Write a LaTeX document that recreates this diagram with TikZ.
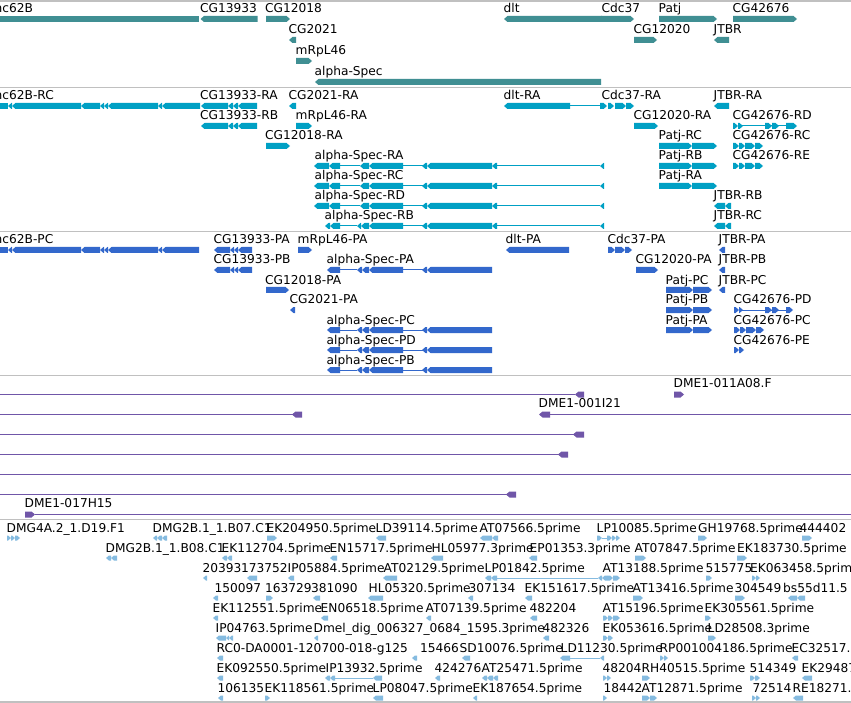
\documentclass[tikz,border=0pt]{standalone}
\usepackage{fontspec}
\setmainfont{DejaVu Sans}
\definecolor{tA}{RGB}{64,143,147}
\definecolor{tB}{RGB}{0,160,196}
\definecolor{tC}{RGB}{51,104,204}
\definecolor{tD}{RGB}{112,86,168}
\definecolor{tE}{RGB}{133,187,224}
\definecolor{sepc}{RGB}{192,192,192}
\newcommand\Gh{3}
\newcommand\Gt{3.5}
% left-pointing exon
\newcommand\GL[3]{\fill (#1,#3) -- (#1+\Gt,#3-\Gh) -- (#2,#3-\Gh) -- (#2,#3+\Gh) -- (#1+\Gt,#3+\Gh) -- cycle;}
% right-pointing exon
\newcommand\GR[3]{\fill (#1,#3-\Gh) -- (#2-\Gt,#3-\Gh) -- (#2,#3) -- (#2-\Gt,#3+\Gh) -- (#1,#3+\Gh) -- cycle;}
% plain block
\newcommand\GB[3]{\fill (#1,#3-\Gh) rectangle (#2,#3+\Gh);}
% intron line
\newcommand\Gline[3]{\draw[line width=1pt] (#1,#3) -- (#2,#3);}
% label
\newcommand\Lab[4]{\node[lab] (#1) at (#2,#3) {#4};}
% composite structures
\newcommand\ncbar[2]{\GB{-2}{8}{#1}\GL{8}{12}{#1}\GL{12}{81}{#1}\GL{81}{100}{#1}\GL{100}{104}{#1}\GL{104}{108}{#1}\GL{108}{158}{#1}\GL{158}{162}{#1}\GL{162}{#2}{#1}}
\newcommand\cgR[1]{\GL{201}{228}{#1}\GL{228}{233}{#1}\GL{233}{238}{#1}\GL{238}{257}{#1}}
\newcommand\cgP[1]{\GL{214}{230}{#1}\GL{230}{234}{#1}\GL{234}{238}{#1}\GL{238}{252}{#1}}
\newcommand\aspecR[1]{\Gline{340}{360}{#1}\Gline{403}{423}{#1}\Gline{497}{600}{#1}%
  \GL{314}{329}{#1}\GL{329}{340}{#1}\GL{360}{369}{#1}\GL{369}{403}{#1}\GL{422}{427}{#1}\GL{427}{492}{#1}\GL{492}{497}{#1}\GL{600}{604}{#1}}
\newcommand\aspecRB[1]{\Gline{340}{357}{#1}\Gline{403}{423}{#1}\Gline{497}{600}{#1}%
  \GL{325}{330}{#1}\GL{330}{340}{#1}\GL{357}{361}{#1}\GL{361}{369}{#1}\GL{369}{403}{#1}\GL{422}{427}{#1}\GL{427}{492}{#1}\GL{492}{497}{#1}\GL{600}{604}{#1}}
\newcommand\aspecP[1]{\Gline{340}{357}{#1}\Gline{403}{423}{#1}%
  \GL{327}{340}{#1}\GL{357}{362}{#1}\GL{362}{369}{#1}\GL{369}{403}{#1}\GL{422}{427}{#1}\GL{427}{492}{#1}}
\newcommand\patjR[1]{\GR{659}{692}{#1}\GR{692}{717}{#1}}
\newcommand\patjP[1]{\GR{666}{693}{#1}\GR{693}{712}{#1}}
\newcommand\cgsmall[2]{\GR{#1}{#1+6}{#2}\GR{#1+6}{#1+12}{#2}\GR{#1+12}{#1+22}{#2}\GR{#1+22}{#1+30}{#2}}
\begin{document}
\begin{tikzpicture}[x=1pt,y=-1pt,
  lab/.style={anchor=base west,inner sep=0pt,font=\fontsize{12.2}{14}\selectfont,text=black}]
\useasboundingbox (0,0) rectangle (851,703);
\clip (0,0) rectangle (851,703);
\fill[white] (0,0) rectangle (851,703);
\foreach \yy in {1,87.5,231.5,375.5,519.5,702}
  \draw[sepc,line width=1.3pt] (0,\yy) -- (851,\yy);

% ---------- track 1: genes ----------
\begin{scope}[color=tA]
\Lab{g1}{-5.5}{13}{nc62B} \GB{-2}{199}{19}
\Lab{g2}{200}{13}{CG13933} \GL{200.5}{257.5}{19}
\Lab{g3}{265}{13}{CG12018} \GR{266}{290}{19}
\Lab{g4}{288.5}{34}{CG2021} \GL{289}{296}{40}
\Lab{g5}{295.5}{55}{mRpL46} \GR{296}{312}{61}
\Lab{g6}{314.5}{76}{alpha-Spec} \GL{315}{601}{82}
\Lab{g7}{503.5}{13}{dlt} \GL{504}{602}{19} \GR{601}{634}{19}
\Lab{g8}{601.5}{13}{Cdc37}
\Lab{g9}{658.5}{13}{Patj} \GR{659}{717}{19}
\Lab{g10}{732.5}{13}{CG42676} \GR{733}{797}{19}
\Lab{g11}{633.5}{34}{CG12020} \GR{634}{657}{40}
\Lab{g12}{713.5}{34}{JTBR} \GL{714}{729}{40}
\end{scope}

% ---------- track 2: transcripts ----------
\begin{scope}[color=tB]
\Lab{t1}{-5.5}{100}{nc62B-RC} \ncbar{106}{200}
\Lab{t2}{200}{100}{CG13933-RA} \cgR{106}
\Lab{t3}{288.5}{100}{CG2021-RA} \GL{289}{296}{106}
\Lab{t4}{503.5}{100}{dlt-RA} \Gline{570}{600}{106} \GL{504}{570}{106}
  \GR{600}{607}{106} \GR{608}{614}{106} \GR{615}{626}{106} \GR{626}{634}{106}
\Lab{t5}{601.5}{100}{Cdc37-RA}
\Lab{t6}{713.5}{100}{JTBR-RA} \GL{714}{729}{106}
\Lab{t7}{200}{120}{CG13933-RB} \cgR{126}
\Lab{t8}{295.5}{120}{mRpL46-RA} \GR{296}{312}{126}
\Lab{t9}{633.5}{120}{CG12020-RA} \GR{634}{658}{126}
\Lab{t10}{732.5}{120}{CG42676-RD} \Gline{738}{786}{126}
  \GR{733}{738}{126} \GR{738}{743}{126} \GR{765}{772}{126} \GR{772}{779}{126} \GR{786}{797}{126}
\Lab{t11}{265}{140}{CG12018-RA} \GR{266}{290}{146}
\Lab{t12}{658.5}{140}{Patj-RC} \patjR{146}
\Lab{t13}{732.5}{140}{CG42676-RC} \cgsmall{733}{146}
\Lab{t14}{314.5}{160}{alpha-Spec-RA} \aspecR{166}
\Lab{t15}{658.5}{160}{Patj-RB} \patjR{166}
\Lab{t16}{732.5}{160}{CG42676-RE} \cgsmall{733}{166}
\Lab{t17}{314.5}{180}{alpha-Spec-RC} \aspecR{186}
\Lab{t18}{658.5}{180}{Patj-RA} \patjR{186}
\Lab{t19}{314.5}{200}{alpha-Spec-RD} \aspecR{206}
\Lab{t20}{713.5}{200}{JTBR-RB} \GL{714}{725}{206} \GL{725}{731}{206}
\Lab{t21}{324.5}{220}{alpha-Spec-RB} \aspecRB{226}
\Lab{t22}{713.5}{220}{JTBR-RC} \GL{714}{725}{226} \GL{725}{731}{226}
\end{scope}

% ---------- track 3: proteins ----------
\begin{scope}[color=tC]
\Lab{p1}{-5.5}{244}{nc62B-PC} \ncbar{250}{199}
\Lab{p2}{213.5}{244}{CG13933-PA} \cgP{250}
\Lab{p3}{297.5}{244}{mRpL46-PA} \GR{298}{312}{250}
\Lab{p4}{505.5}{244}{dlt-PA} \GL{506}{569}{250}
\Lab{p5}{607.5}{244}{Cdc37-PA} \GR{608}{615}{250} \GR{615}{625}{250} \GR{625}{632}{250}
\Lab{p6}{718.5}{244}{JTBR-PA} \GL{719}{725}{250}
\Lab{p7}{213.5}{264}{CG13933-PB} \cgP{270}
\Lab{p8}{326.5}{264}{alpha-Spec-PA} \aspecP{270}
\Lab{p9}{635.5}{264}{CG12020-PA} \GR{636}{658}{270}
\Lab{p10}{718.5}{264}{JTBR-PB} \GL{719}{725}{270}
\Lab{p11}{265}{284}{CG12018-PA} \GR{266}{289}{290}
\Lab{p12}{665.5}{284}{Patj-PC} \patjP{290}
\Lab{p13}{718.5}{284}{JTBR-PC} \GL{719}{725}{290}
\Lab{p14}{289.5}{304}{CG2021-PA} \GL{290}{295}{310}
\Lab{p15}{665.5}{304}{Patj-PB} \patjP{310}
\Lab{p16}{733.5}{304}{CG42676-PD} \Gline{739}{786}{310}
  \GR{734}{739}{310} \GR{739}{743}{310} \GR{765}{772}{310} \GR{772}{779}{310} \GR{786}{793}{310}
\Lab{p17}{326.5}{324}{alpha-Spec-PC} \aspecP{330}
\Lab{p18}{665.5}{324}{Patj-PA} \patjP{330}
\Lab{p19}{733.5}{324}{CG42676-PC} \cgsmall{734}{330}
\Lab{p20}{326.5}{344}{alpha-Spec-PD} \aspecP{350}
\Lab{p21}{733.5}{344}{CG42676-PE} \GR{734}{739}{350} \GR{739}{744}{350}
\Lab{p22}{326.5}{364}{alpha-Spec-PB} \aspecP{370}
\end{scope}

% ---------- track 4: clones ----------
\begin{scope}[color=tD]
\Gline{-2}{575}{394.5} \GL{575}{584}{394.5}
\Lab{d1}{673.5}{387.5}{DME1-011A08.F} \GR{674}{684}{394.5}
\Gline{-2}{293}{414.5} \GL{292}{302}{414.5}
\Lab{d2}{538.5}{407.5}{DME1-001I21} \GL{539}{550}{414.5} \Gline{550}{853}{414.5}
\Gline{-2}{574}{434.5} \GL{573}{584}{434.5}
\Gline{-2}{559}{454.5} \GL{558}{568}{454.5}
\Gline{-2}{853}{474.5}
\Gline{-2}{507}{494.5} \GL{506}{516}{494.5}
\Lab{d3}{24.5}{507.5}{DME1-017H15} \GR{25}{35}{514.5} \Gline{35}{853}{514.5}
\end{scope}

% ---------- track 5: ESTs ----------
\begin{scope}[color=tE]
\renewcommand\Gh{2.5}\renewcommand\Gt{3}
% row 1
\Lab{e1}{6.5}{532}{DMG4A.2\_1.D19.F1} \GR{7}{11}{538} \GR{11}{15}{538} \GR{15}{20}{538}
\Lab{e2}{152.5}{532}{DMG2B.1\_1.B07.C1} \GL{153}{157}{538} \GL{157}{162}{538} \GL{162}{167}{538}
\Lab{e3}{266.5}{532}{EK204950.5prime} \GR{267}{277}{538}
\Lab{e4}{375.5}{532}{LD39114.5prime} \GL{376}{386}{538}
\Lab{e5}{479.5}{532}{AT07566.5prime} \GL{480}{492}{538} \GL{492}{498}{538}
\Lab{e6}{596.5}{532}{LP10085.5prime} \Gline{602}{607}{538} \GR{597}{602}{538} \GR{607}{612}{538} \GR{612}{616}{538} \GR{616}{620}{538}
\Lab{e7}{698}{532}{GH19768.5prime} \GR{698}{707}{538}
\Lab{e8}{799.5}{532}{444402} \GR{802}{812}{538}
% row 2
\Lab{e9}{105.5}{552}{DMG2B.1\_1.B08.C1} \GL{106}{111}{558} \GL{111}{117}{558}
\Lab{e10}{221.5}{552}{EK112704.5prime} \GL{222}{227}{558} \GL{227}{232}{558}
\Lab{e11}{329.5}{552}{EN15717.5prime} \GL{330}{337}{558}
\Lab{e12}{431.5}{552}{HL05977.3prime} \GL{431}{443}{558}
\Lab{e13}{529.5}{552}{EP01353.3prime} \GL{529}{537}{558}
\Lab{e14}{634.5}{552}{AT07847.5prime} \GR{635}{646}{558}
\Lab{e15}{737}{552}{EK183730.5prime} \GR{737}{747}{558}
% row 3
\Lab{e16}{202.5}{572}{20393} \GL{203}{207}{578}
\Lab{e17}{241}{572}{173752} \GL{247}{257}{578}
\Lab{e18}{287.5}{572}{IP05884.5prime} \GL{288}{294}{578}
\Lab{e19}{383.5}{572}{AT02129.5prime} \GL{383}{397}{578}
\Lab{e20}{484.5}{572}{LP01842.5prime} \Gline{497}{598}{578} \GL{485}{491}{578} \GL{491}{497}{578} \GL{598}{602}{578} \GL{602}{607}{578}
\Lab{e21}{602.5}{572}{AT13188.5prime} \GR{607}{613}{578} \GR{613}{620}{578}
\Lab{e22}{705.5}{572}{515775} \GR{706}{712}{578}
\Lab{e23}{750}{572}{EK063458.5prim} \GR{752}{756}{578} \GR{756}{760}{578}
% row 4
\Lab{e24}{214.5}{592}{150097} \GL{213}{218}{598}
\Lab{e25}{265}{592}{163729} \GR{266}{273}{598}
\Lab{e26}{311}{592}{381090} \GL{313}{320}{598}
\Lab{e27}{368.5}{592}{HL05320.5prime} \GL{368}{383}{598}
\Lab{e28}{468.5}{592}{307134} \GL{468}{473}{598}
\Lab{e29}{524.5}{592}{EK151617.5prime} \GL{525}{532}{598}
\Lab{e30}{632.5}{592}{AT13416.5prime} \GR{633}{643}{598}
\Lab{e31}{734.5}{592}{304549} \GR{735}{745}{598}
\Lab{e32}{783}{592}{bs55d11.5} \GL{788}{797}{598} \GL{797}{805}{598}
% row 5
\Lab{e33}{212.5}{612}{EK112551.5prime} \GL{213}{218}{618}
\Lab{e34}{320.5}{612}{EN06518.5prime} \GL{321}{328}{618}
\Lab{e35}{425.5}{612}{AT07139.5prime} \GL{426}{431}{618}
\Lab{e36}{529.5}{612}{482204} \GL{530}{537}{618}
\Lab{e37}{602.5}{612}{AT15196.5prime} \GR{603}{608}{618} \GR{608}{613}{618} \GR{613}{620}{618}
\Lab{e38}{704.5}{612}{EK305561.5prime} \GR{705}{711}{618}
% row 6
\Lab{e39}{215.5}{632}{IP04763.5prime} \GL{216}{226}{638} \GL{226}{229}{638} \GL{229}{233}{638}
\Lab{e40}{313.5}{632}{Dmel\_dig\_006327\_0684\_1595.3prime} \GL{314}{318}{638}
\Lab{e41}{542.5}{632}{482326} \GL{543}{549}{638}
\Lab{e42}{602.5}{632}{EK053616.5prime} \GR{603}{608}{638} \GR{608}{613}{638}
\Lab{e43}{707.5}{632}{LD28508.3prime} \GR{708}{716}{638}
% row 7
\Lab{e44}{216.5}{652}{RC0-DA0001-120700-018-g125} \GL{217}{223}{658}
\Lab{e45}{420}{652}{15466} \GL{412}{417}{658}
\Lab{e46}{459.5}{652}{SD10076.5prime} \GL{462}{470}{658}
\Lab{e47}{560.5}{652}{LD11230.5prime} \Gline{570}{600}{658} \GL{560}{570}{658} \GL{600}{604}{658}
\Lab{e48}{659.5}{652}{RP001004186.5prime} \GR{660}{664}{658} \GR{664}{668}{658}
\Lab{e49}{791.5}{652}{EC32517.} \GL{792}{798}{658}
% row 8
\Lab{e50}{216.5}{672}{EK092550.5prime} \GL{217}{223}{678}
\Lab{e51}{325.5}{672}{IP13932.5prime} \Gline{335}{373}{678} \GL{325}{330}{678} \GL{330}{335}{678} \GL{373}{382}{678}
\Lab{e52}{434.5}{672}{424276} \GL{435}{440}{678}
\Lab{e53}{481.5}{672}{AT25471.5prime} \GL{482}{487}{678} \GL{487}{493}{678} \GL{493}{498}{678}
\Lab{e54}{602.5}{672}{48204} \GR{603}{607}{678} \GR{607}{611}{678}
\Lab{e55}{641.5}{672}{RH40515.5prime} \GR{642}{650}{678}
\Lab{e56}{749.5}{672}{514349} \GR{750}{755}{678} \GR{755}{760}{678}
\Lab{e57}{801.5}{672}{EK29487} \GL{802}{812}{678}
% row 9
\Lab{e58}{217.5}{692}{106135} \GL{218}{223}{698}
\Lab{e59}{264.5}{692}{EK118561.5prime} \GR{265}{270}{698}
\Lab{e60}{372.5}{692}{LP08047.5prime} \GL{373}{383}{698}
\Lab{e61}{472.5}{692}{EK187654.5prime} \GL{473}{477}{698}
\Lab{e62}{603.5}{692}{18442} \GR{603}{607}{698}
\Lab{e63}{641.5}{692}{AT12871.5prime} \GR{642}{650}{698} \GR{650}{657}{698}
\Lab{e64}{752.5}{692}{72514} \GR{752}{756}{698} \GR{756}{760}{698}
\Lab{e65}{792.5}{692}{RE18271.} \GL{793}{803}{698}
\end{scope}
\end{tikzpicture}
\end{document}
